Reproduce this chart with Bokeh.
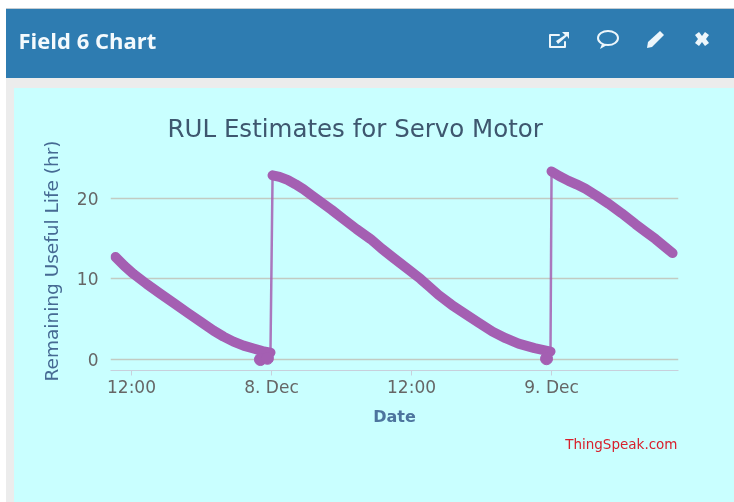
from urllib.parse import quote
from bokeh.embed import file_html
from bokeh.resources import INLINE
from bokeh.plotting import figure
from bokeh.models import ColumnDataSource, FixedTicker, Range1d, Title

# Hours since 7 Dec 00:00
tick_hours = [12, 24, 36, 48]
tick_labels = ["12:00", "8. Dec", "12:00", "9. Dec"]
y_ticks = [0, 10, 20]

# Values
hours_a = [10.63, 11.40, 12.17, 13.29, 14.49, 15.6, 16.8, 17.91, 19.03, 19.89, 20.74, 21.6, 22.46, 23.23, 23.91]
rul_a = [12.72, 11.6, 10.62, 9.38, 8.15, 7.04, 5.8, 4.69, 3.58, 2.84, 2.22, 1.73, 1.36, 1.05, 0.86]
hours_b = [24.09, 24.69, 25.37, 26.06, 26.74, 27.43, 28.2, 29.14, 30.17, 31.29, 32.49, 33.43, 34.46,
           35.57, 36.77, 37.54, 38.31, 39.43, 40.63, 41.74, 42.94, 44.06, 45.17, 46.54, 47.91]
rul_b = [22.84, 22.65, 22.28, 21.73, 21.11, 20.37, 19.57, 18.58, 17.41, 16.17, 14.94, 13.77, 12.59,
         11.36, 10.0, 9.01, 8.02, 6.79, 5.62, 4.57, 3.46, 2.65, 1.98, 1.42, 0.99]
hours_c = [48.0, 48.69, 49.46, 50.14, 50.91, 51.86, 52.89, 54.0, 55.2, 56.06, 56.91, 57.69, 58.37]
rul_c = [23.33, 22.72, 22.16, 21.73, 21.17, 20.31, 19.32, 18.15, 16.79, 15.86, 14.94, 14.01, 13.21]
hours_low = [23.05, 23.65, 47.57]
rul_low = [0.0, 0.15, 0.1]

PURPLE = "#a45fb2"
CYAN = "#c9ffff"
BLUE = "#2e7cb1"
GRAY = "#ececec"
W, H = 734, 502

# Panel chrome and header icons sit behind the canvas as the element's background.
icons = f"""<svg xmlns='http://www.w3.org/2000/svg' width='{W}' height='{H}'>
<g fill='none' stroke='#edf6fb' stroke-width='2' stroke-linejoin='round' stroke-linecap='round'>
<path d='M565 42 V47 H550 V35 H559'/>
<ellipse cx='608' cy='38' rx='10' ry='7'/>
</g>
<g fill='#edf6fb'>
<path d='M556 41 L565 35 L562 32 H569 V39 L567 36 L558 44 Z'/>
<path d='M602 44 L600 49 L607 45 Z'/>
<path d='M648 42 L647 48 L652 47 L664 35 L660 31 Z'/>
<path d='M695 35 L699 32 L702 36 L705 32 L709 35 L706 39 L709 43 L705 46 L702 42 L699 46 L695 43 L698 39 Z'/>
</g></svg>"""
icons_uri = "data:image/svg+xml," + quote(icons.replace("\n", ""))

p = figure(width=W, height=H, output_backend="svg", toolbar_location=None,
           x_range=Range1d(10.2, 58.88), y_range=Range1d(-1.36, 25.8),
           min_border_left=110, min_border_right=56, min_border_top=150, min_border_bottom=132)
p.background_fill_color = None
p.border_fill_color = None
p.outline_line_color = None
p.styles = {"filter": "blur(0.4px)", "background": (
    f'url("{icons_uri}") no-repeat 0 0, '
    "linear-gradient(to right, white 0 6px, transparent 6px), "
    f"linear-gradient(to bottom, white 0 8px, #c4ccd2 8px 9px, {BLUE} 9px 78px, {GRAY} 78px 88px, transparent 88px), "
    f"linear-gradient(to right, {GRAY} 0 14px, {CYAN} 14px)")}

# Stacked above the frame, nearest first: chart title, a blank spacer, panel header.
p.add_layout(Title(text="RUL Estimates for Servo Motor", align="left", offset=57, standoff=17,
                   text_font="DejaVu Sans", text_font_size="24.5px", text_font_style="normal",
                   text_color="#3e576f"), "above")
p.add_layout(Title(text=" ", standoff=24, text_font_size="1px", text_color=CYAN), "above")
p.title = Title(text="Field 6 Chart", align="left", offset=-92, standoff=44,
                text_font="Open Sans", text_font_size="22px", text_font_style="bold",
                text_color="#f4fafd")

# axes
p.xaxis.ticker = FixedTicker(ticks=tick_hours)
p.xaxis.major_label_overrides = dict(zip(tick_hours, tick_labels))
p.xaxis.axis_label = "Date"
p.xaxis.axis_label_text_font = "DejaVu Sans"
p.xaxis.axis_label_text_font_size = "16px"
p.xaxis.axis_label_text_font_style = "bold"
p.xaxis.axis_label_text_color = "#4d759e"
p.xaxis.axis_label_standoff = 7
p.xaxis.major_label_text_font = "DejaVu Sans"
p.xaxis.major_label_text_font_size = "17px"
p.xaxis.major_label_text_color = "#666666"
p.xaxis.axis_line_color = "#c8d0dc"
p.xaxis.major_tick_line_color = "#c8d0dc"
p.xaxis.major_tick_in = 0
p.xaxis.major_tick_out = 5
p.xaxis.minor_tick_line_color = None
p.xaxis.major_label_standoff = 1

p.yaxis.ticker = FixedTicker(ticks=y_ticks)
p.yaxis.axis_label = "Remaining Useful Life (hr)"
p.yaxis.axis_label_text_font = "DejaVu Sans"
p.yaxis.axis_label_text_font_size = "18.5px"
p.yaxis.axis_label_text_font_style = "normal"
p.yaxis.axis_label_text_color = "#466a93"
p.yaxis.axis_label_standoff = 12
p.yaxis.major_label_text_font = "DejaVu Sans"
p.yaxis.major_label_text_font_size = "17px"
p.yaxis.major_label_text_color = "#666666"
p.yaxis.major_label_orientation = "horizontal"
p.yaxis.axis_line_color = None
p.yaxis.major_tick_line_color = None
p.yaxis.minor_tick_line_color = None
p.yaxis.major_label_standoff = 6

p.xgrid.visible = False
p.ygrid.ticker = FixedTicker(ticks=y_ticks)
p.ygrid.grid_line_color = "#c2cbc2"
p.ygrid.grid_line_width = 1.5

# thin connecting line through every reading
all_x = hours_a + hours_b + hours_c
all_y = rul_a + rul_b + rul_c
p.line(all_x, all_y, line_color=PURPLE, line_width=2.5, line_alpha=0.85)
for xs, ys in ((hours_a, rul_a), (hours_b, rul_b), (hours_c, rul_c)):
    src = ColumnDataSource(dict(x=xs, y=ys))
    p.line("x", "y", source=src, line_color=PURPLE, line_width=10, line_cap="round", line_join="round")
p.scatter(hours_low, rul_low, size=12, color=PURPLE)

p.add_layout(Title(text="ThingSpeak.com", align="right", offset=1, standoff=10,
                   text_font="DejaVu Sans", text_font_size="13.5px", text_font_style="normal",
                   text_color="#d8202c"), "below")

open("out.html", "w").write(file_html(p, INLINE))
